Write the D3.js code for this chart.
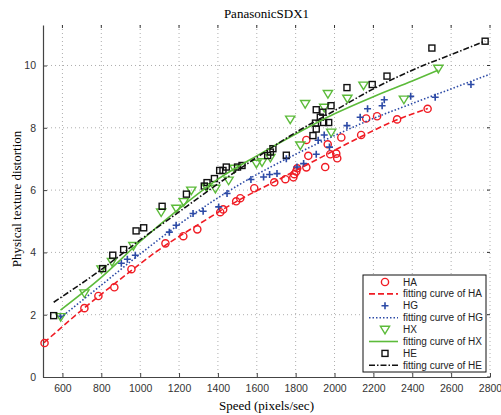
<!DOCTYPE html>
<meta charset="utf-8">
<script src="https://cdnjs.cloudflare.com/ajax/libs/d3/7.8.5/d3.min.js"></script>
<style>
    body { margin: 0; background: #fff; }
    .tick text { font-family: 'Liberation Sans', Arial, sans-serif; font-size: 10.5px; fill: #333; }
</style>
<div id="chart"></div>
<script>
    // data (speed, distortion)
    var haSpeed = [508, 713, 785, 867, 955, 1130, 1222, 1294, 1412, 1427, 1494, 1515, 1587, 1690, 1747, 1788, 1793, 1803, 1808, 1855, 1855, 1865, 1952, 1965, 1978, 2009, 2014, 2035, 2137, 2163, 2219, 2322, 2479];
    var haDist  = [1.09, 2.21, 2.60, 2.88, 3.46, 4.29, 4.52, 4.74, 5.29, 5.38, 5.64, 5.74, 6.06, 6.25, 6.35, 6.41, 6.51, 6.60, 6.70, 6.73, 7.61, 7.10, 6.74, 7.47, 7.15, 7.17, 7.02, 7.69, 7.77, 8.30, 8.37, 8.27, 8.61];

    var hgSpeed = [590, 903, 934, 975, 1150, 1185, 1272, 1324, 1404, 1447, 1570, 1635, 1666, 1704, 1752, 1807, 1841, 1906, 1916, 1947, 1974, 2064, 2132, 2170, 2245, 2256, 2392, 2518, 2702];
    var hgDist  = [1.95, 3.65, 3.78, 3.91, 4.65, 4.87, 5.25, 5.32, 5.46, 5.89, 6.34, 6.42, 6.50, 6.53, 7.01, 6.74, 6.85, 7.15, 7.60, 7.77, 7.38, 8.07, 8.34, 8.61, 8.71, 8.90, 9.01, 8.98, 9.39];

    var hxSpeed = [591, 713, 801, 855, 965, 1108, 1186, 1224, 1263, 1341, 1387, 1455, 1485, 1598, 1627, 1670, 1772, 1824, 1849, 1947, 1966, 1983, 2066, 2149, 2357, 2534];
    var hxDist  = [1.93, 2.69, 3.46, 3.70, 4.21, 5.29, 5.41, 5.62, 5.99, 6.10, 6.05, 6.31, 6.69, 6.85, 6.90, 7.04, 8.27, 7.44, 8.77, 8.65, 9.09, 7.85, 8.94, 9.36, 8.91, 9.90];

    var heSpeed = [555, 807, 859, 915, 979, 1018, 1113, 1238, 1330, 1344, 1382, 1409, 1426, 1443, 1501, 1524, 1656, 1670, 1683, 1752, 1889, 1906, 1902, 1927, 1906, 1940, 1944, 1970, 1982, 2064, 2194, 2270, 2501, 2775];
    var heDist  = [1.97, 3.48, 3.91, 4.09, 4.69, 4.79, 5.48, 5.87, 6.13, 6.24, 6.37, 6.63, 6.63, 6.74, 6.74, 6.79, 7.11, 7.22, 7.33, 7.12, 7.75, 7.96, 8.15, 8.34, 8.58, 8.50, 8.17, 8.17, 8.71, 9.29, 9.39, 9.66, 10.56, 10.78];

    // fitting curves
    var haFitSpeed = [505, 700, 900, 1100, 1300, 1500, 1700, 1900, 2100, 2300, 2480];
    var haFitDist  = [1.10, 2.15, 3.15, 4.10, 4.90, 5.65, 6.30, 6.95, 7.60, 8.20, 8.62];
    var hgFitSpeed = [590, 800, 1000, 1200, 1400, 1600, 1800, 2000, 2200, 2400, 2600, 2800];
    var hgFitDist  = [1.90, 2.95, 3.95, 4.90, 5.75, 6.50, 7.15, 7.75, 8.30, 8.78, 9.25, 9.72];
    var hxFitSpeed = [590, 800, 1000, 1200, 1400, 1600, 1800, 2000, 2200, 2400, 2534];
    var hxFitDist  = [2.15, 3.20, 4.35, 5.40, 6.35, 7.10, 7.80, 8.45, 9.00, 9.50, 9.85];
    var heFitSpeed = [555, 800, 1000, 1200, 1400, 1600, 1800, 2000, 2200, 2400, 2600, 2775];
    var heFitDist  = [2.40, 3.45, 4.40, 5.30, 6.20, 7.05, 7.85, 8.55, 9.25, 9.85, 10.35, 10.78];

    var xTicks = [600, 800, 1000, 1200, 1400, 1600, 1800, 2000, 2200, 2400, 2600, 2800];
    var yTicks = [0, 2, 4, 6, 8, 10];

    var margin = {top: 25, right: 11, bottom: 38, left: 43},
        width = 501 - margin.left - margin.right,
        height = 415 - margin.top - margin.bottom;

    var svg = d3.select("#chart")
        .append("svg")
        .attr("width", 501)
        .attr("height", 415)
        .append("g")
        .attr("transform", "translate(" + margin.left + "," + margin.top + ")");

    var x = d3.scaleLinear().domain([500, 2800]).range([0, width]);
    var y = d3.scaleLinear().domain([0, 11.3]).range([height, 0]);

    // grid
    svg.append("g").selectAll("line")
        .data(xTicks)
        .enter().append("line")
        .attr("x1", function(d) { return x(d); })
        .attr("x2", function(d) { return x(d); })
        .attr("y1", 0).attr("y2", height)
        .attr("stroke", "#999").attr("stroke-width", 0.8)
        .attr("stroke-dasharray", "1,3");
    svg.append("g").selectAll("line")
        .data(yTicks.slice(1))
        .enter().append("line")
        .attr("x1", 0).attr("x2", width)
        .attr("y1", function(d) { return y(d); })
        .attr("y2", function(d) { return y(d); })
        .attr("stroke", "#999").attr("stroke-width", 0.8)
        .attr("stroke-dasharray", "1,3");

    // top ticks
    svg.append("g").selectAll("line")
        .data(xTicks)
        .enter().append("line")
        .attr("x1", function(d) { return x(d); })
        .attr("x2", function(d) { return x(d); })
        .attr("y1", 0).attr("y2", 3)
        .attr("stroke", "#333");
    // right ticks
    svg.append("g").selectAll("line")
        .data(yTicks)
        .enter().append("line")
        .attr("x1", width - 3).attr("x2", width)
        .attr("y1", function(d) { return y(d); })
        .attr("y2", function(d) { return y(d); })
        .attr("stroke", "#333");

    // axes
    var xAxis = svg.append("g")
        .attr("transform", "translate(0," + height + ")")
        .call(d3.axisBottom(x).tickValues(xTicks).tickFormat(d3.format("d"))
            .tickSizeInner(-4).tickSizeOuter(0).tickPadding(8));
    var yAxis = svg.append("g")
        .call(d3.axisLeft(y).tickValues(yTicks).tickFormat(d3.format("d"))
            .tickSizeInner(-4).tickSizeOuter(0).tickPadding(7));
    [xAxis, yAxis].forEach(function(a) {
        a.select(".domain").attr("stroke", "#444").attr("stroke-width", 1.2);
        a.selectAll(".tick line").attr("stroke", "#444");
    });

    var series = [
        {name: "HA", sx: haSpeed, sy: haDist, fx: haFitSpeed, fy: haFitDist, color: "#f01c24", dash: "6,3", marker: "circle"},
        {name: "HG", sx: hgSpeed, sy: hgDist, fx: hgFitSpeed, fy: hgFitDist, color: "#2c4aa6", dash: "1.5,2", marker: "plus"},
        {name: "HX", sx: hxSpeed, sy: hxDist, fx: hxFitSpeed, fy: hxFitDist, color: "#5cbb3a", dash: null, marker: "tri"},
        {name: "HE", sx: heSpeed, sy: heDist, fx: heFitSpeed, fy: heFitDist, color: "#111", dash: "6,2,1.5,2", marker: "square"}
    ];

    function drawMarker(g, type, color) {
        if (type == "circle") {
            g.append("circle").attr("r", 3.6).attr("fill", "none").attr("stroke", color).attr("stroke-width", 1.4);
        } else if (type == "plus") {
            g.append("path").attr("d", "M-3.5,0H3.5M0,-3.5V3.5").attr("stroke", color).attr("stroke-width", 1.6);
        } else if (type == "tri") {
            g.append("path").attr("d", "M-4.6,-3.3L4.6,-3.3L0,4.3Z").attr("fill", "none").attr("stroke", color).attr("stroke-width", 1.4);
        } else {
            g.append("rect").attr("x", -3).attr("y", -3).attr("width", 6).attr("height", 6)
                .attr("fill", "none").attr("stroke", color).attr("stroke-width", 1.4);
        }
    }

    var line = d3.line()
        .x(function(d) { return x(d[0]); })
        .y(function(d) { return y(d[1]); })
        .curve(d3.curveMonotoneX);

    // markers first, then fitting curves on top
    series.forEach(function(s) {
        var pts = d3.zip(s.sx, s.sy);
        svg.append("g").selectAll("g")
            .data(pts)
            .enter().append("g")
            .attr("transform", function(d) { return "translate(" + x(d[0]) + "," + y(d[1]) + ")"; })
            .each(function() { drawMarker(d3.select(this), s.marker, s.color); });
    });
    series.forEach(function(s) {
        svg.append("path")
            .datum(d3.zip(s.fx, s.fy))
            .attr("fill", "none")
            .attr("stroke", s.color)
            .attr("stroke-width", 1.6)
            .attr("stroke-dasharray", s.dash)
            .attr("d", line);
    });

    // legend
    var lg = svg.append("g").attr("transform", "translate(" + (363 - margin.left) + "," + (275 - margin.top) + ")");
    lg.append("rect").attr("width", 123).attr("height", 97)
        .attr("fill", "#fff").attr("stroke", "#111").attr("stroke-width", 1);
    var rows = [];
    series.forEach(function(s) {
        rows.push({label: s.name, s: s, kind: "marker"});
        rows.push({label: "fitting curve of " + s.name, s: s, kind: "line"});
    });
    rows.forEach(function(r, i) {
        var ry = 7 + i * 11.9;
        if (r.kind == "marker") {
            var mg = lg.append("g").attr("transform", "translate(22," + ry + ")");
            drawMarker(mg, r.s.marker, r.s.color);
        } else {
            lg.append("line").attr("x1", 6).attr("x2", 35).attr("y1", ry).attr("y2", ry)
                .attr("stroke", r.s.color).attr("stroke-width", 1.6)
                .attr("stroke-dasharray", r.s.dash);
        }
        lg.append("text").attr("x", 40).attr("y", ry + 3.5)
            .style("font-family", "'Liberation Sans', Arial, sans-serif")
            .style("font-size", "10px").style("fill", "#222")
            .text(r.label);
    });

    // title and labels
    svg.append("text")
        .attr("x", width / 2).attr("y", -7)
        .style("text-anchor", "middle")
        .style("font-family", "'Liberation Serif', 'Times New Roman', serif")
        .style("font-size", "13px")
        .text("PanasonicSDX1");
    svg.append("text")
        .attr("x", width / 2).attr("y", height + 33)
        .style("text-anchor", "middle")
        .style("font-family", "'Liberation Serif', 'Times New Roman', serif")
        .style("font-size", "13px")
        .text("Speed (pixels/sec)");
    svg.append("text")
        .attr("transform", "rotate(-90)")
        .attr("x", -height / 2 + 2).attr("y", -22)
        .style("text-anchor", "middle")
        .style("font-family", "'Liberation Serif', 'Times New Roman', serif")
        .style("font-size", "13px")
        .text("Physical texture distortion");
</script>
